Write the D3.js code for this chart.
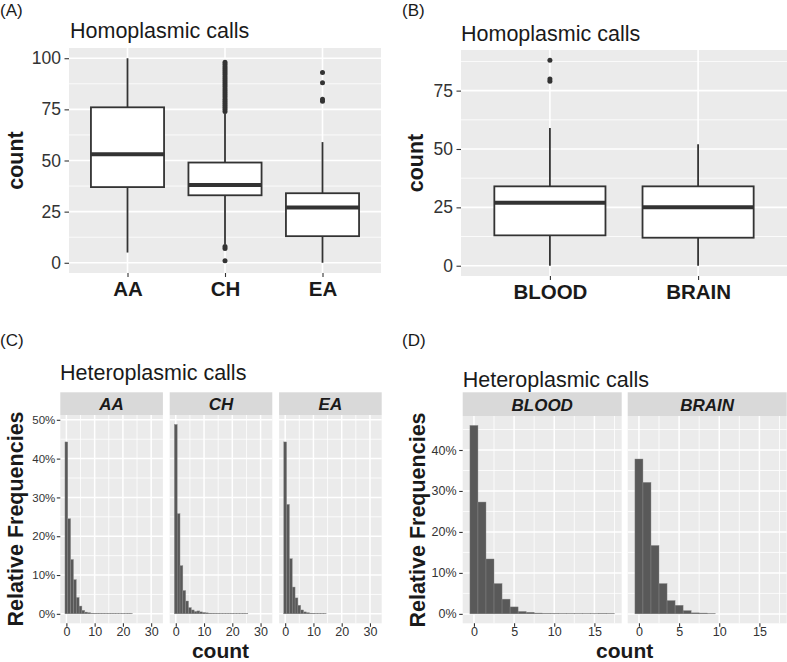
<!DOCTYPE html>
<html>
<head>
<meta charset="utf-8">
<script src="https://cdn.jsdelivr.net/npm/d3@7/dist/d3.min.js"></script>
<style>
  body { margin: 0; background: #fff; }
  text { font-family: "Liberation Sans", Arial, Helvetica, sans-serif; }
</style>
</head>
<body>
<svg id="fig" width="787" height="662"></svg>
<script>
// ---- data ----
// (A) homoplasmic calls by population
const popCats = ["AA", "CH", "EA"];
const popLow = [5, 9, 0];
const popQ1 = [37, 33, 13];
const popMedian = [53, 38, 27];
const popQ3 = [76, 49, 34];
const popHigh = [100, 73, 59];
const popOutliers = [
  [],
  [1, 7, 8, 74, 75, 76, 77, 78, 79, 80, 81, 82, 83, 84, 85, 86, 87, 88, 89, 90, 91, 92, 93, 94, 95, 96, 97, 98],
  [79, 80, 88, 93]
];
const popTicks = [0, 25, 50, 75, 100];

// (B) homoplasmic calls by tissue
const tissueCats = ["BLOOD", "BRAIN"];
const tissueLow = [0, 0];
const tissueQ1 = [13, 12];
const tissueMedian = [27, 25];
const tissueQ3 = [34, 34];
const tissueHigh = [59, 52];
const tissueOutliers = [[79, 80, 88], []];
const tissueTicks = [0, 25, 50, 75];

// (C) heteroplasmic calls, relative frequency (%) per count 0,1,2,...
const heteroAA = [44.3, 24.5, 14.0, 8.8, 4.2, 2.0, 0.9, 0.45, 0.3, 0.15, 0.1, 0.1, 0.08, 0.08, 0.06,
                  0.05, 0.05, 0.04, 0.03, 0.02, 0.02, 0.02, 0.05, 0.02];
const heteroCH = [48.8, 25.8, 12.4, 6.0, 3.3, 1.6, 1.0, 0.6, 0.75, 0.5, 0.35, 0.25, 0.15, 0.1, 0.08,
                  0.06, 0.05, 0.04, 0.03, 0.03, 0.02, 0.02, 0.02, 0.02, 0.04, 0.02];
const heteroEA = [44.3, 28.2, 14.2, 6.9, 4.1, 2.2, 1.0, 0.5, 0.3, 0.15, 0.1, 0.05, 0.04, 0.03, 0.02];
const popHistTicksX = [0, 10, 20, 30];
const popHistTicksY = [0, 10, 20, 30, 40, 50];

// (D) heteroplasmic calls by tissue
const heteroBlood = [46.0, 27.3, 13.4, 7.4, 3.6, 1.7, 0.6, 0.4, 0.2, 0.12, 0.1, 0.06, 0.04, 0.03, 0.03,
                     0.03, 0.1, 0.05];
const heteroBrain = [37.8, 32.1, 16.7, 7.4, 3.25, 2.1, 0.8, 0.25, 0.2, 0.05];
const tissueHistTicksX = [0, 5, 10, 15];
const tissueHistTicksY = [0, 10, 20, 30, 40];

const svg = d3.select("#fig");
const ink = "#1a1a1a";
const lineCol = "#333333";

function label(txt, x, y, size, weight) {
  svg.append("text").attr("x", x).attr("y", y)
    .style("font-size", size + "px").style("font-weight", weight || "normal")
    .attr("fill", ink).text(txt);
}

function yTitle(txt, x, cy, size) {
  svg.append("text")
    .attr("transform", "translate(" + x + "," + cy + ") rotate(-90)")
    .attr("text-anchor", "middle")
    .style("font-size", size + "px").style("font-weight", "bold")
    .attr("fill", ink).text(txt);
}

function xTitle(txt, cx, y, size) {
  svg.append("text").attr("x", cx).attr("y", y).attr("text-anchor", "middle")
    .style("font-size", size + "px").style("font-weight", "bold")
    .attr("fill", ink).text(txt);
}

function styleAxis(ax, size, weight, color) {
  ax.select(".domain").remove();
  ax.selectAll(".tick line").attr("stroke", lineCol).attr("stroke-width", 1.1);
  ax.selectAll(".tick text")
    .style("font-size", size + "px").style("font-weight", weight || "normal")
    .style("font-family", '"Liberation Sans", Arial, sans-serif')
    .attr("fill", color);
}

function drawBoxPanel(p) {
  const g = svg.append("g");
  const x = d3.scalePoint().domain(p.cats).range([p.x0, p.x1]).padding(0.6);
  const y = d3.scaleLinear().domain(p.yDomain).range([p.y1, p.y0]);

  g.append("rect").attr("x", p.x0).attr("y", p.y0)
    .attr("width", p.x1 - p.x0).attr("height", p.y1 - p.y0).attr("fill", "#ebebeb");

  const minor = p.ticks.map(t => t + 12.5).filter(t => y(t) > p.y0);
  g.selectAll(".minor").data(minor).join("line")
    .attr("x1", p.x0).attr("x2", p.x1).attr("y1", d => y(d)).attr("y2", d => y(d))
    .attr("stroke", "#fff").attr("stroke-width", 0.8);
  g.selectAll(".major").data(p.ticks).join("line")
    .attr("x1", p.x0).attr("x2", p.x1).attr("y1", d => y(d)).attr("y2", d => y(d))
    .attr("stroke", "#fff").attr("stroke-width", 1.6);
  g.selectAll(".vmajor").data(p.cats).join("line")
    .attr("x1", d => x(d)).attr("x2", d => x(d)).attr("y1", p.y0).attr("y2", p.y1)
    .attr("stroke", "#fff").attr("stroke-width", 1.6);

  const bw = x.step() * 0.75;
  p.cats.forEach((c, i) => {
    const cx = x(c);
    const b = g.append("g");
    b.append("line").attr("x1", cx).attr("x2", cx)
      .attr("y1", y(p.q3[i])).attr("y2", y(p.high[i]))
      .attr("stroke", lineCol).attr("stroke-width", 1.8);
    b.append("line").attr("x1", cx).attr("x2", cx)
      .attr("y1", y(p.q1[i])).attr("y2", y(p.low[i]))
      .attr("stroke", lineCol).attr("stroke-width", 1.8);
    b.append("rect").attr("x", cx - bw / 2).attr("width", bw)
      .attr("y", y(p.q3[i])).attr("height", y(p.q1[i]) - y(p.q3[i]))
      .attr("fill", "#fff").attr("stroke", lineCol).attr("stroke-width", 1.8);
    b.append("line").attr("x1", cx - bw / 2).attr("x2", cx + bw / 2)
      .attr("y1", y(p.median[i])).attr("y2", y(p.median[i]))
      .attr("stroke", lineCol).attr("stroke-width", 4);
    b.selectAll("circle").data(p.outliers[i]).join("circle")
      .attr("cx", cx).attr("cy", d => y(d)).attr("r", 2.5).attr("fill", lineCol);
  });

  const ay = g.append("g").attr("transform", "translate(" + p.x0 + ",0)")
    .call(d3.axisLeft(y).tickValues(p.ticks).tickSize(4.5).tickPadding(3.5));
  styleAxis(ay, 17.5, "normal", "#333");
  const ax = g.append("g").attr("transform", "translate(0," + p.y1 + ")")
    .call(d3.axisBottom(x).tickSize(4).tickPadding(4));
  styleAxis(ax, 20.5, "bold", ink);
}

function drawFacets(p) {
  const y = d3.scaleLinear().domain(p.yDomain).range([p.y1, p.y0]);
  p.facets.forEach((name, f) => {
    const fx0 = p.x0 + f * (p.w + p.gap);
    const x = d3.scaleLinear().domain(p.xDomain).range([fx0, fx0 + p.w]);
    const g = svg.append("g");
    g.append("rect").attr("x", fx0).attr("y", p.y0).attr("width", p.w)
      .attr("height", p.y1 - p.y0).attr("fill", "#ebebeb");
    g.append("rect").attr("x", fx0).attr("y", p.stripY).attr("width", p.w)
      .attr("height", p.y0 - p.stripY).attr("fill", "#d9d9d9");
    g.append("text").attr("x", fx0 + p.w / 2).attr("y", p.y0 - 5.5)
      .attr("text-anchor", "middle").style("font-size", "17px")
      .style("font-weight", "bold").style("font-style", "italic")
      .attr("fill", ink).text(name);

    const xt = p.xTicks, xs = xt[1] - xt[0];
    const xMinor = xt.map(t => t + xs / 2).filter(t => x(t) < fx0 + p.w);
    const yt = p.yTicks, ys = yt[1] - yt[0];
    const yMinor = yt.map(t => t + ys / 2).filter(t => y(t) > p.y0);
    g.selectAll(".hmin").data(yMinor).join("line")
      .attr("x1", fx0).attr("x2", fx0 + p.w).attr("y1", d => y(d)).attr("y2", d => y(d))
      .attr("stroke", "#fff").attr("stroke-width", 0.8);
    g.selectAll(".vmin").data(xMinor).join("line")
      .attr("x1", d => x(d)).attr("x2", d => x(d)).attr("y1", p.y0).attr("y2", p.y1)
      .attr("stroke", "#fff").attr("stroke-width", 0.8);
    g.selectAll(".hmaj").data(yt).join("line")
      .attr("x1", fx0).attr("x2", fx0 + p.w).attr("y1", d => y(d)).attr("y2", d => y(d))
      .attr("stroke", "#fff").attr("stroke-width", 1.5);
    g.selectAll(".vmaj").data(xt).join("line")
      .attr("x1", d => x(d)).attr("x2", d => x(d)).attr("y1", p.y0).attr("y2", p.y1)
      .attr("stroke", "#fff").attr("stroke-width", 1.5);

    g.selectAll(".bar").data(p.values[f]).join("rect")
      .attr("x", (d, i) => x(i - 0.5)).attr("width", (d, i) => x(i + 0.5) - x(i - 0.5))
      .attr("y", d => y(d)).attr("height", d => y(0) - y(d))
      .attr("fill", "#595959").attr("stroke", "#8a8a8a").attr("stroke-width", 0.4);

    const ax = g.append("g").attr("transform", "translate(0," + p.y1 + ")")
      .call(d3.axisBottom(x).tickValues(xt).tickSize(3.5).tickPadding(0));
    styleAxis(ax, 12.5, "normal", "#333");

    if (f === 0) {
      const ay = g.append("g").attr("transform", "translate(" + fx0 + ",0)")
        .call(d3.axisLeft(y).tickValues(yt).tickFormat(d => d + "%")
          .tickSize(3.5).tickPadding(p.yPad));
      styleAxis(ay, p.ySize, "normal", "#333");
    }
  });
}

// ---- (A) ----
label("(A)", 0, 16, 17);
label("Homoplasmic calls", 70, 37.5, 21.5);
drawBoxPanel({
  cats: popCats, low: popLow, q1: popQ1, median: popMedian, q3: popQ3, high: popHigh,
  outliers: popOutliers, ticks: popTicks, yDomain: [-5, 105],
  x0: 69, x1: 381, y0: 48, y1: 273
});
yTitle("count", 23, 160.5, 21.5);

// ---- (B) ----
label("(B)", 402, 16, 17);
label("Homoplasmic calls", 461, 40.5, 21.5);
drawBoxPanel({
  cats: tissueCats, low: tissueLow, q1: tissueQ1, median: tissueMedian, q3: tissueQ3, high: tissueHigh,
  outliers: tissueOutliers, ticks: tissueTicks, yDomain: [-4.4, 92.4],
  x0: 461, x1: 787, y0: 50, y1: 276
});
yTitle("count", 423, 163, 21.5);

// ---- (C) ----
label("(C)", 0, 346, 17);
label("Heteroplasmic calls", 60, 380, 21.5);
drawFacets({
  facets: popCats, values: [heteroAA, heteroCH, heteroEA],
  xDomain: [-2.15, 34.15], yDomain: [-2.44, 51.24],
  xTicks: popHistTicksX, yTicks: popHistTicksY,
  x0: 60.3, w: 102.6, gap: 6.8, stripY: 392.3, y0: 415, y1: 623.3,
  yPad: 1.5, ySize: 11.5
});
yTitle("Relative Frequencies", 23, 519, 21.5);
xTitle("count", 220.5, 657.5, 21);

// ---- (D) ----
label("(D)", 402, 346, 17);
label("Heteroplasmic calls", 462.7, 386.5, 21.5);
drawFacets({
  facets: tissueCats, values: [heteroBlood, heteroBrain],
  xDomain: [-1.4, 18.4], yDomain: [-2.3, 48.3],
  xTicks: tissueHistTicksX, yTicks: tissueHistTicksY,
  x0: 462.7, w: 159, gap: 6, stripY: 392.3, y0: 416, y1: 623.3,
  yPad: 2.7, ySize: 12.5
});
yTitle("Relative Frequencies", 425, 520, 21.5);
xTitle("count", 624.7, 657.5, 21);
</script>
</body>
</html>
